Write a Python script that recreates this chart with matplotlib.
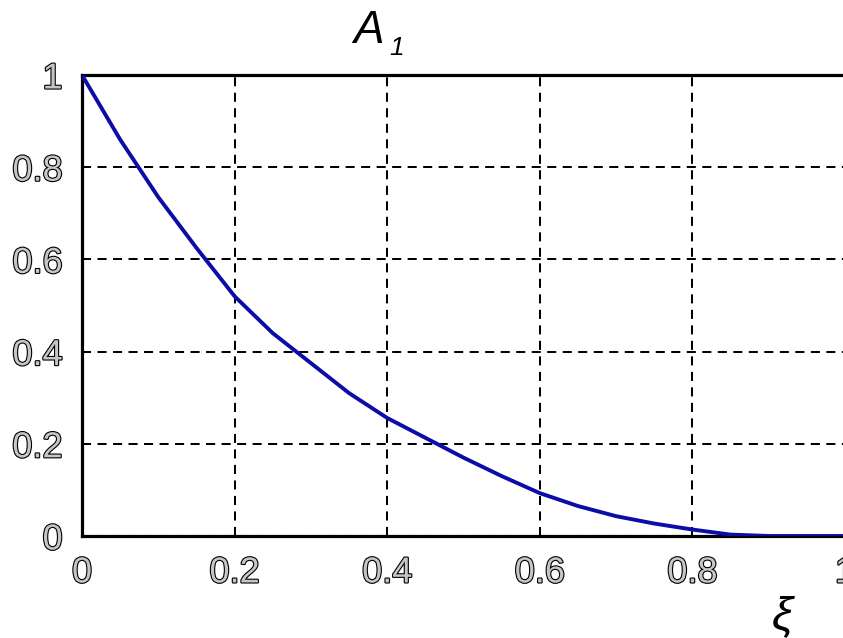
import matplotlib
matplotlib.use("Agg")
import matplotlib.pyplot as plt
import matplotlib.patheffects as pe

# Amplitude profile A1 against the dimensionless coordinate xi
xi = [0.0, 0.05, 0.10, 0.15, 0.20, 0.25, 0.30, 0.35, 0.40, 0.45, 0.50,
      0.55, 0.60, 0.65, 0.70, 0.75, 0.80, 0.85, 0.90, 0.95, 1.0]
a1 = [1.0, 0.86, 0.735, 0.625, 0.52, 0.44, 0.375, 0.31, 0.256, 0.213, 0.17,
      0.13, 0.093, 0.065, 0.043, 0.027, 0.014, 0.003, 0.0, 0.0, 0.0]

xticks = [0, 0.2, 0.4, 0.6, 0.8, 1.0]
xtick_labels = ["0", "0.2", "0.4", "0.6", "0.8", "1"]
yticks = [0, 0.2, 0.4, 0.6, 0.8, 1.0]
ytick_labels = ["0", "0.2", "0.4", "0.6", "0.8", "1"]

W, H = 843, 638
fig = plt.figure(figsize=(W / 100, H / 100), dpi=100)
ax = fig.add_axes([82 / W, 1 - 536 / H, (845 - 82) / W, (536 - 75) / H])

ax.plot(xi, a1, color="#0c0ca8", lw=2.8, solid_joinstyle="miter", zorder=3)

ax.set_xlim(0, 1)
ax.set_ylim(0, 1)
ax.set_xticks(xticks)
ax.set_yticks(yticks)
ax.set_xticklabels(xtick_labels)
ax.set_yticklabels(ytick_labels)
ax.tick_params(length=0, pad=14)

# Grey digits with a thin black outline
outline = [pe.Stroke(linewidth=1.6, foreground="black"), pe.Normal()]
for lab in ax.get_xticklabels() + ax.get_yticklabels():
    lab.set_family("Liberation Sans")
    lab.set_fontsize(26)
    lab.set_color("#c6c6c6")
    lab.set_path_effects(outline)

ax.grid(True, color="black", lw=1.45, linestyle=(0, (4.5, 3.2)))
ax.set_axisbelow(True)
for side in ax.spines.values():
    side.set_linewidth(2.3)
    side.set_color("black")

# Title A with italic subscript 1
fig.text(353 / W, 1 - 43 / H, "A", fontsize=33, style="italic",
         family="Liberation Sans", ha="left", va="baseline")
fig.text(389 / W, 1 - 55 / H, "1", fontsize=19, style="italic",
         family="Liberation Sans", ha="left", va="baseline")

# Axis label xi
fig.text(782 / W, 1 - 618 / H, "ξ", fontsize=34, style="italic",
         family="Liberation Sans", ha="center", va="center")

fig.savefig("out.png", dpi=100)
